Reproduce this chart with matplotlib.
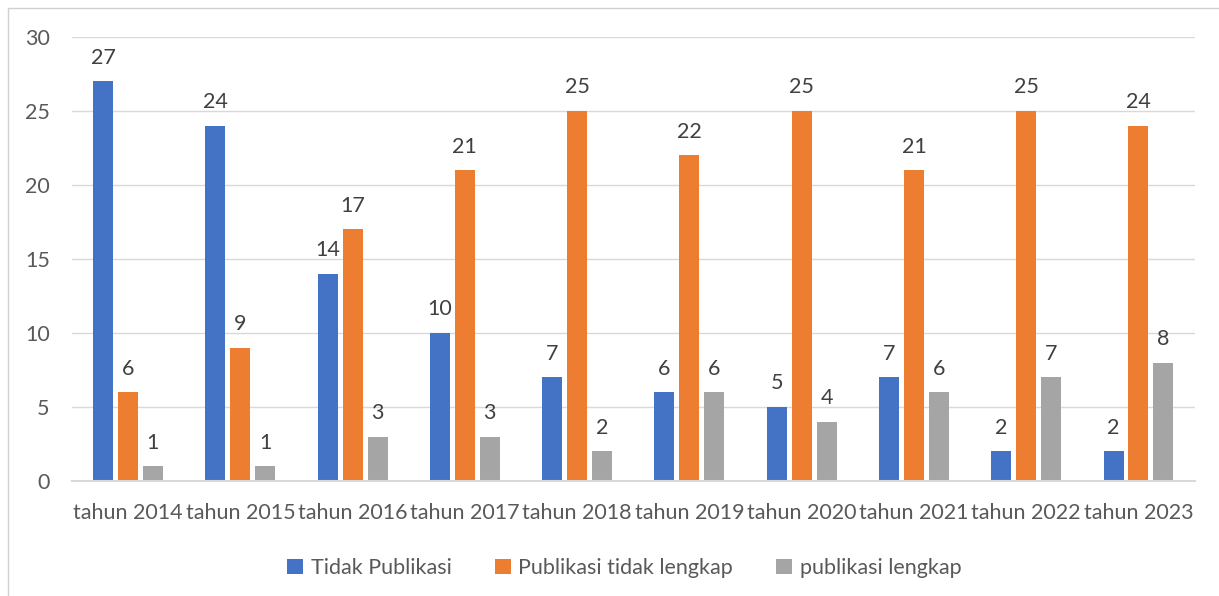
import numpy as np
import matplotlib.pyplot as plt
from matplotlib.patches import Rectangle

years = ["tahun 2014", "tahun 2015", "tahun 2016", "tahun 2017", "tahun 2018",
         "tahun 2019", "tahun 2020", "tahun 2021", "tahun 2022", "tahun 2023"]
tidak_publikasi = [27, 24, 14, 10, 7, 6, 5, 7, 2, 2]
tidak_lengkap = [6, 9, 17, 21, 25, 22, 25, 21, 25, 24]
lengkap = [1, 1, 3, 3, 2, 6, 4, 6, 7, 8]

series = [
    ("Tidak Publikasi", tidak_publikasi, "#4472C4"),
    ("Publikasi tidak lengkap", tidak_lengkap, "#ED7D31"),
    ("publikasi lengkap", lengkap, "#A5A5A5"),
]

plt.rcParams['font.family'] = ['Lato', 'DejaVu Sans']
fs = 15.5

fig = plt.figure(figsize=(12.19, 5.96), dpi=100)
ax = fig.add_axes([0.059, 0.193, 0.921, 0.745])

# frame around the chart area
W, H = 1219, 596
fig.patches.append(Rectangle((8 / W, -0.1), 1.2, (H - 8) / H + 0.1,
                             transform=fig.transFigure, fill=False,
                             edgecolor="#D0D0D0", linewidth=1))

x = np.arange(len(years))
width = 0.178
step = 0.222
for i, (name, vals, color) in enumerate(series):
    pos = x + (i - 1) * step
    bars = ax.bar(pos, vals, width, color=color, label=name, zorder=3)
    for b, v in zip(bars, vals):
        ax.annotate(str(v), (b.get_x() + b.get_width() / 2, v),
                    xytext=(0, 17), textcoords="offset points",
                    ha="center", va="center", fontsize=fs, color="#404040")

ax.set_xlim(-0.5, len(years) - 0.5)
ax.set_ylim(0, 30)
ax.set_yticks(range(0, 31, 5))
ax.set_xticks(x)
ax.set_xticklabels(years)
ax.tick_params(axis="both", length=0, labelsize=fs, labelcolor="#595959")
ax.tick_params(axis="y", pad=16)
ax.tick_params(axis="x", pad=16)
ax.grid(axis="y", color="#D9D9D9", linewidth=1, zorder=0)
for s in ["top", "right", "left"]:
    ax.spines[s].set_visible(False)
ax.spines["bottom"].set_color("#D9D9D9")
ax.spines["bottom"].set_linewidth(1.5)
ax.spines["bottom"].set_zorder(4)

leg = ax.legend(loc="center", bbox_to_anchor=(0.492, -0.196), ncol=3,
                frameon=False, fontsize=fs, handlelength=0.75, handleheight=0.75,
                handletextpad=0.35, columnspacing=2.0)
for t in leg.get_texts():
    t.set_color("#595959")

fig.savefig("out.png", dpi=100)
